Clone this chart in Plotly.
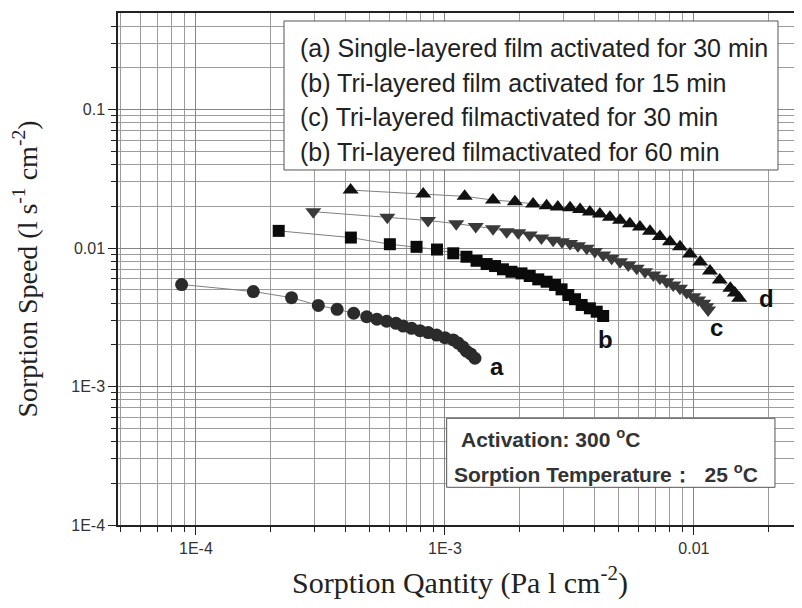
import numpy as np
import plotly.graph_objects as go

# curve a: single-layered film, 30 min
a_x = [8.76e-5, 1.70e-4, 2.42e-4, 3.10e-4, 3.69e-4, 4.30e-4, 4.85e-4, 5.33e-4, 5.83e-4, 6.36e-4, 6.80e-4,
       7.35e-4, 7.94e-4, 8.57e-4, 9.26e-4, 1.00e-3, 1.08e-3, 1.13e-3, 1.18e-3, 1.22e-3, 1.27e-3, 1.32e-3]
a_y = [5.45e-3, 4.85e-3, 4.38e-3, 3.85e-3, 3.61e-3, 3.38e-3, 3.19e-3, 3.06e-3, 2.96e-3, 2.86e-3, 2.73e-3,
       2.63e-3, 2.53e-3, 2.45e-3, 2.35e-3, 2.25e-3, 2.17e-3, 2.06e-3, 1.93e-3, 1.80e-3, 1.72e-3, 1.60e-3]

# curve b: tri-layered film, 15 min
b_x = [2.15e-4, 4.19e-4, 6.01e-4, 7.69e-4, 9.29e-4, 1.08e-3, 1.22e-3, 1.34e-3, 1.47e-3, 1.59e-3, 1.71e-3, 1.85e-3,
       2.03e-3, 2.19e-3, 2.37e-3, 2.56e-3, 2.77e-3, 2.94e-3, 3.13e-3, 3.33e-3, 3.54e-3, 3.82e-3, 4.07e-3, 4.32e-3]
b_y = [1.33e-2, 1.19e-2, 1.065e-2, 1.02e-2, 9.75e-3, 9.16e-3, 8.65e-3, 8.09e-3, 7.66e-3, 7.41e-3, 7.02e-3, 6.74e-3,
       6.56e-3, 6.28e-3, 5.94e-3, 5.71e-3, 5.41e-3, 5.03e-3, 4.58e-3, 4.27e-3, 3.88e-3, 3.67e-3, 3.47e-3, 3.23e-3]

# curve c: tri-layered film, 30 min
c_x = [2.96e-4, 5.87e-4, 8.55e-4, 1.11e-3, 1.33e-3, 1.56e-3, 1.77e-3, 1.97e-3, 2.19e-3, 2.44e-3, 2.72e-3,
       2.95e-3, 3.18e-3, 3.42e-3, 3.71e-3, 4.00e-3, 4.32e-3, 4.67e-3, 5.05e-3, 5.45e-3, 5.89e-3, 6.36e-3,
       6.87e-3, 7.30e-3, 7.77e-3, 8.26e-3, 8.79e-3, 9.35e-3, 9.94e-3, 1.04e-2, 1.09e-2, 1.12e-2, 1.14e-2]
c_y = [1.83e-2, 1.67e-2, 1.58e-2, 1.50e-2, 1.43e-2, 1.38e-2, 1.31e-2, 1.29e-2, 1.24e-2, 1.18e-2, 1.14e-2,
       1.11e-2, 1.08e-2, 1.04e-2, 9.95e-3, 9.44e-3, 8.90e-3, 8.43e-3, 7.97e-3, 7.54e-3, 7.13e-3, 6.74e-3,
       6.38e-3, 6.04e-3, 5.71e-3, 5.41e-3, 5.12e-3, 4.77e-3, 4.45e-3, 4.21e-3, 3.99e-3, 3.77e-3, 3.57e-3]

# curve d: tri-layered film, 60 min
d_x = [4.18e-4, 8.18e-4, 1.20e-3, 1.56e-3, 1.91e-3, 2.26e-3, 2.56e-3, 2.84e-3, 3.18e-3, 3.49e-3, 3.82e-3,
       4.19e-3, 4.60e-3, 5.05e-3, 5.53e-3, 6.07e-3, 6.66e-3, 7.30e-3, 8.01e-3, 8.79e-3, 9.64e-3, 1.06e-2,
       1.16e-2, 1.27e-2, 1.40e-2, 1.46e-2, 1.52e-2]
d_y = [2.62e-2, 2.46e-2, 2.36e-2, 2.22e-2, 2.16e-2, 2.08e-2, 2.02e-2, 1.98e-2, 1.95e-2, 1.90e-2, 1.82e-2,
       1.76e-2, 1.67e-2, 1.59e-2, 1.50e-2, 1.42e-2, 1.32e-2, 1.21e-2, 1.11e-2, 1.02e-2, 9.05e-3, 7.93e-3,
       6.82e-3, 5.87e-3, 5.12e-3, 4.73e-3, 4.33e-3]

legend_lines = ["(a) Single-layered film activated for 30 min",
                "(b) Tri-layered film activated for 15 min",
                "(c) Tri-layered filmactivated for 30 min",
                "(b) Tri-layered filmactivated for 60 min"]
cond_lines = ["Activation: 300 <sup>o</sup>C",
              "Sorption Temperature\uff1a  25 <sup>o</sup>C"]

tick_vals = [1e-4, 1e-3, 1e-2, 1e-1]
x_tick_text = ["1E-4", "1E-3", "0.01", "0.1"]
y_tick_text = ["1E-4", "1E-3", "0.01", "0.1"]

series = [
    ("a", a_x, a_y, "circle", 13, "#2b2b2b", 22, -8),
    ("b", b_x, b_y, "square", 12, "#0a0a0a", 2, -24),
    ("c", c_x, c_y, "triangle-down", 14, "#3a3a3a", 8, -18),
    ("d", d_x, d_y, "triangle-up", 14, "#111111", 27, 0),
]

fig = go.Figure()
for name, xs, ys, sym, sz, col, dx, dy in series:
    fig.add_trace(go.Scatter(x=xs, y=ys, mode="lines+markers", name=name,
                             line=dict(color="#808080", width=1),
                             marker=dict(symbol=sym, size=sz, color=col, line=dict(width=0))))
    # curve letter next to the last point
    fig.add_annotation(x=np.log10(xs[-1]), y=np.log10(ys[-1]), text=name, showarrow=False,
                       xshift=dx, yshift=dy,
                       font=dict(family="Liberation Sans", size=24, color="#111111", weight="bold"))

grid_col = "#858585"
axis_common = dict(type="log", showline=True, linecolor="#222", linewidth=1.5, mirror=True,
                   automargin=False,
                   ticks="outside", ticklen=8, tickwidth=1.2, tickcolor="#222",
                   showgrid=True, gridcolor=grid_col, gridwidth=1, zeroline=False,
                   tickfont=dict(family="Liberation Sans", size=16, color="#333"),
                   minor=dict(ticks="outside", ticklen=5, tickcolor="#222", dtick="D1",
                              showgrid=True, gridcolor="#9c9c9c", gridwidth=1))

fig.update_xaxes(**axis_common, range=[-4.313, -1.566], tickvals=tick_vals, ticktext=x_tick_text,
                 title=dict(text="Sorption Qantity (Pa l cm<sup>-2</sup>)", standoff=16,
                            font=dict(family="Liberation Serif", size=30, color="#222")))
fig.update_yaxes(**axis_common, range=[-4, -0.303], tickvals=tick_vals, ticktext=y_tick_text,
                 title=dict(text="Sorption Speed (l s<sup>-1</sup> cm<sup>-2</sup>)", standoff=28,
                            font=dict(family="Liberation Serif", size=28, color="#222")))

# legend box (text only)
fig.add_shape(type="rect", xref="paper", yref="paper", x0=0.2427, x1=0.9649, y0=0.6934, y1=0.9844,
              line=dict(color="#555", width=1), fillcolor="white", layer="above")
for i, t in enumerate(legend_lines):
    fig.add_annotation(xref="paper", yref="paper", x=0.2632, y=0.9316 - i * 0.0677, text=t,
                       showarrow=False, xanchor="left", yanchor="middle",
                       font=dict(family="Liberation Sans", size=25, color="#222"))

# conditions box
fig.add_shape(type="rect", xref="paper", yref="paper", x0=0.4805, x1=0.9605, y0=0.0736, y1=0.2084,
              line=dict(color="#555", width=1), fillcolor="white", layer="above")
for t, xp, yp in zip(cond_lines, [0.4985, 0.4885], [0.1693, 0.1021]):
    fig.add_annotation(xref="paper", yref="paper", x=xp, y=yp, text=t,
                       showarrow=False, xanchor="left", yanchor="middle",
                       font=dict(family="Liberation Sans", size=21, color="#333", weight="bold"))

# page body adds ~8px offset, so the figure is 8px smaller than the window
fig.update_layout(width=794, height=600, showlegend=False,
                  paper_bgcolor="white", plot_bgcolor="white",
                  margin=dict(l=110, r=0, t=5, b=83))
fig.write_html("out.html")
